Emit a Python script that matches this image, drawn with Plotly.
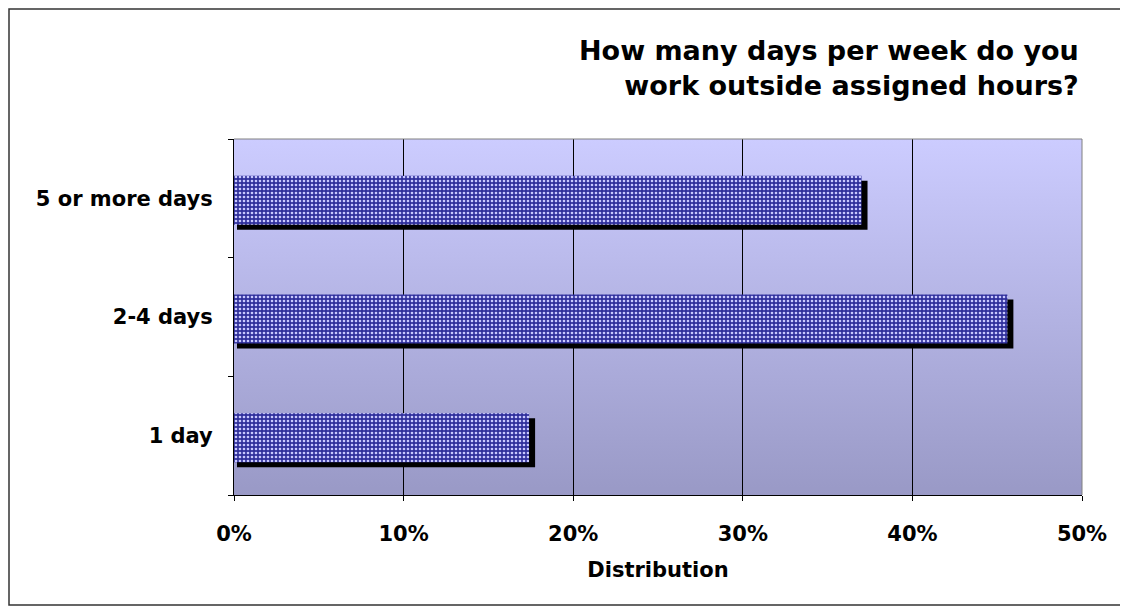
import base64
import plotly.graph_objects as go

# ---- data ----
categories = ["1 day", "2-4 days", "5 or more days"]
values = [17.4, 45.6, 37.0]          # percent
x_tick_vals = [0, 10, 20, 30, 40, 50]
x_tick_text = ["0%", "10%", "20%", "30%", "40%", "50%"]
title_lines = ["How many days per week do you", "work outside assigned hours?"]
x_title = "Distribution"

# ---- style ----
W, H = 1128, 609
ML, MT = 226, 131
plot_w, plot_h = 848, 356
MR = W - ML - plot_w
MB = H - MT - plot_h
xmax = 50.0
px_x = xmax / plot_w            # data units per pixel (x)
px_y = 3.0 / plot_h             # category units per pixel (y)

bar_w = 49 * px_y
bar_off = -bar_w / 2 - 2 * px_y
sh_dy = 5 * px_y
sh_left = 3 * px_x
sh_right = 6 * px_x

FONT = "Verdana, DejaVu Sans, sans-serif"
TICK_SIZE = 21

svg = ('<svg xmlns="http://www.w3.org/2000/svg" width="10" height="100" viewBox="0 0 10 100" '
       'preserveAspectRatio="none"><defs><linearGradient id="g" x1="0" y1="0" x2="0" y2="1">'
       '<stop offset="0" stop-color="#ccccff"/><stop offset="1" stop-color="#9999c6"/>'
       '</linearGradient></defs><rect width="10" height="100" fill="url(#g)"/></svg>')
bg_uri = "data:image/svg+xml;base64," + base64.b64encode(svg.encode()).decode()

fig = go.Figure()

# shadow
fig.add_trace(go.Bar(
    y=categories, x=[v + sh_right - sh_left for v in values], base=sh_left,
    orientation="h", width=bar_w, offset=bar_off - sh_dy,
    marker=dict(color="black", line=dict(width=0)),
    hoverinfo="skip", showlegend=False,
))
# main bars
fig.add_trace(go.Bar(
    y=categories, x=values, orientation="h", width=bar_w, offset=bar_off,
    marker=dict(
        color="#30309c",
        line=dict(width=0),
        pattern=dict(shape=".", fgcolor="#c8c8ff", bgcolor="#30309c",
                     size=4, solidity=0.35, fillmode="replace"),
    ),
    showlegend=False,
))

def px_to_paper_x(px):
    return (px - ML) / plot_w

def px_to_paper_y(py):
    return 1 - (py - MT) / plot_h

fig.update_layout(
    width=W, height=H,
    margin=dict(l=ML, r=MR, t=MT, b=MB),
    paper_bgcolor="white",
    plot_bgcolor="rgba(0,0,0,0)",
    barmode="overlay",
    font=dict(family=FONT, color="black", size=TICK_SIZE),
    images=[dict(source=bg_uri, xref="paper", yref="paper", x=0, y=1,
                 sizex=1, sizey=1, xanchor="left", yanchor="top",
                 sizing="stretch", layer="below")],
    xaxis=dict(
        range=[0, xmax], tickvals=x_tick_vals, ticktext=x_tick_text,
        showgrid=True, gridcolor="black", gridwidth=1,
        showline=True, linecolor="black", linewidth=1,
        ticks="outside", ticklen=5, tickcolor="black",
        ticklabelstandoff=15,
        tickfont=dict(family=FONT, size=TICK_SIZE, color="black", weight="bold"),
        title=dict(text="<b>" + x_title + "</b>", standoff=17,
                   font=dict(family=FONT, size=TICK_SIZE, color="black")),
        zeroline=False, fixedrange=True,
    ),
    yaxis=dict(
        type="category", categoryorder="array", categoryarray=categories,
        range=[-0.5, 2.5], showgrid=False,
        showline=True, linecolor="black", linewidth=1,
        ticks="outside", ticklen=5, tickcolor="black", tickson="boundaries",
        ticklabelstandoff=16,
        tickfont=dict(family=FONT, size=TICK_SIZE, color="black", weight="bold"),
        zeroline=False, fixedrange=True,
    ),
    annotations=[dict(
        text="<b>" + "<br>".join(title_lines) + "</b>",
        xref="paper", yref="paper",
        x=px_to_paper_x(1073), y=px_to_paper_y(25),
        xanchor="right", yanchor="top", align="right", showarrow=False,
        font=dict(family=FONT, size=27, color="black"),
    )],
    shapes=[
        # plot area border (top and right, grey)
        dict(type="line", xref="paper", yref="paper", x0=0, x1=1, y0=1, y1=1,
             line=dict(color="#808080", width=1)),
        dict(type="line", xref="paper", yref="paper", x0=1, x1=1, y0=0, y1=1,
             line=dict(color="#808080", width=1)),
        # outer chart frame
        dict(type="rect", xref="paper", yref="paper",
             x0=px_to_paper_x(1), x1=px_to_paper_x(1113),
             y0=px_to_paper_y(597), y1=px_to_paper_y(1),
             line=dict(color="#333333", width=1.5), fillcolor="rgba(0,0,0,0)"),
    ],
)

fig.write_html("out.html")
